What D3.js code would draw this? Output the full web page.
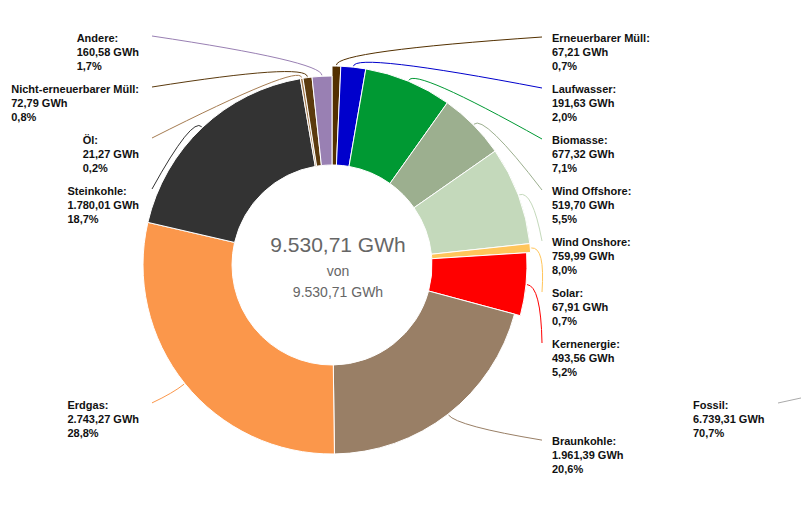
<!DOCTYPE html>
<html><head><meta charset="utf-8">
<script src="https://cdn.jsdelivr.net/npm/d3@7"></script>
<style>body{margin:0;background:#fff}</style>
</head><body>
<svg id="c" width="801" height="514"></svg>
<script>
const categories = ["Erneuerbarer Müll","Laufwasser","Biomasse","Wind Offshore","Wind Onshore","Solar","Kernenergie","Braunkohle","Erdgas","Steinkohle","Öl","Nicht-erneuerbarer Müll","Andere"];
const values = [67.21,191.63,677.32,519.70,759.99,67.91,493.56,1961.39,2743.27,1780.01,21.27,72.79,160.58];
const percentLabels = ["0,7%","2,0%","7,1%","5,5%","8,0%","0,7%","5,2%","20,6%","28,8%","18,7%","0,2%","0,8%","1,7%"];
const groups = ["Erneuerbar","Erneuerbar","Erneuerbar","Erneuerbar","Erneuerbar","Erneuerbar","Kernenergie","Fossil","Fossil","Fossil","Fossil","Fossil","Fossil"];
const colors = ["#533000","#0000cc","#009933","#9caf8f","#c4d9bb","#ffc55a","#ff0000","#997f66","#fb974b","#333333","#a57c52","#5b3a0e","#9980b3"];
const totalValue = 9530.71;
const groupName = "Fossil";
const groupValue = 6739.31;
const groupPercent = "70,7%";

// styling
const W = 801, H = 514;
const cx = 332, cy = 265, rInner = 100;
const groupRadius = {"Erneuerbar":199, "Kernenergie":195, "Fossil":189};
const svg = d3.select("#c");
const loc = d3.formatLocale({decimal:",", thousands:".", grouping:[3], currency:["","€"]});
const fmt = loc.format(",.2f");
const font = "'Liberation Sans', Arial, Helvetica, sans-serif";

const data = categories.map((c,i)=>({name:c, value:values[i], pct:percentLabels[i], color:colors[i], group:groups[i]}));
const pie = d3.pie().sort(null).value(d=>d.value).startAngle(0).endAngle(2*Math.PI);
const arcs = pie(data);
const outerR = d => groupRadius[d.data.group];
const arc = d3.arc().innerRadius(rInner).outerRadius(outerR);

const g = svg.append("g").attr("transform",`translate(${cx},${cy})`);
g.selectAll("path.slice").data(arcs).enter().append("path")
  .attr("class","slice")
  .attr("d",arc)
  .attr("fill",d=>d.data.color)
  .attr("stroke","#fff").attr("stroke-width",1);

function pt(a,r){return [cx + r*Math.sin(a), cy - r*Math.cos(a)];}

// label layout
const lineH = 14, gap = 51, topMin = 38, labelR = 223;
const right = arcs.filter(d=>(d.startAngle+d.endAngle)/2 < Math.PI);
const left = arcs.filter(d=>(d.startAngle+d.endAngle)/2 >= Math.PI).reverse();
function stack(list){
  let prev = null;
  list.forEach(d=>{
    const m=(d.startAngle+d.endAngle)/2;
    const nat = pt(m,labelR)[1];
    const y = prev === null ? Math.min(nat, topMin) : Math.max(nat, prev+gap);
    d.ly = y; prev = y;
  });
}
stack(right); stack(left);

const rightTextX = 552, rightLineX = 542, leftTextRight = 139, leftLineX = 152;

function leader(d, ex, ey){
  const m=(d.startAngle+d.endAngle)/2;
  const r = outerR(d);
  const p0 = pt(m, r+1), c = pt(m, r+15);
  svg.append("path")
    .attr("d",`M${p0[0]},${p0[1]}Q${c[0]},${c[1]} ${ex},${ey}`)
    .attr("fill","none").attr("stroke",d.data.color).attr("stroke-width",1);
}

function labelBlock(lines, x, yc, alignRight){
  const t = svg.append("g");
  const texts = lines.map((s,i)=>t.append("text")
    .attr("x",x).attr("y",yc + i*lineH).attr("dy","0.35em")
    .attr("font-family",font).attr("font-size",11).attr("font-weight","bold")
    .attr("fill","#111").text(s));
  if(alignRight){
    const mw = d3.max(texts, n=>n.node().getComputedTextLength());
    texts.forEach(n=>n.attr("x", x - mw));
  }
}

right.forEach(d=>{
  leader(d, rightLineX, d.ly - 1);
  labelBlock([d.data.name+":", fmt(d.data.value)+" GWh", d.data.pct], rightTextX, d.ly, false);
});
left.forEach(d=>{
  leader(d, leftLineX, d.ly - 2);
  labelBlock([d.data.name+":", fmt(d.data.value)+" GWh", d.data.pct], leftTextRight, d.ly, true);
});

// group label (outer series)
labelBlock([groupName+":", fmt(groupValue)+" GWh", groupPercent], 693, 405, false);
svg.append("path").attr("d","M778,403L810,396").attr("fill","none").attr("stroke","#aaa").attr("stroke-width",1);

// center text
const tx = 338;
svg.append("text").attr("x",tx).attr("y",252).attr("text-anchor","middle")
  .attr("font-family",font).attr("font-size",21).attr("fill","#666").text(fmt(totalValue)+" GWh");
svg.append("text").attr("x",tx).attr("y",276).attr("text-anchor","middle")
  .attr("font-family",font).attr("font-size",14).attr("fill","#666").text("von");
svg.append("text").attr("x",tx).attr("y",297).attr("text-anchor","middle")
  .attr("font-family",font).attr("font-size",14).attr("fill","#666").text(fmt(totalValue)+" GWh");
</script>
</body></html>
